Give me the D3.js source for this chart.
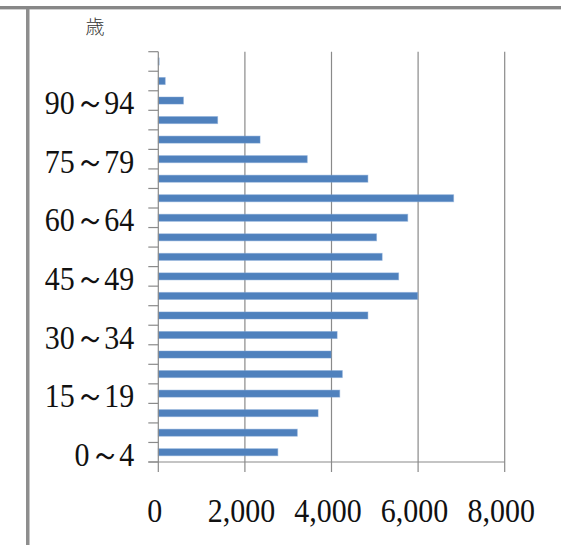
<!DOCTYPE html>
<html>
<head>
<meta charset="utf-8">
<script src="https://cdn.jsdelivr.net/npm/d3@7"></script>
<style>
  html, body { margin: 0; padding: 0; background: #fff; }
  svg { display: block; }
</style>
</head>
<body>
<svg id="chart" width="561" height="545"></svg>
<script>
// Age groups (5-year bands), youngest first
const categories = ["0～4","5～9","10～14","15～19","20～24","25～29","30～34","35～39",
  "40～44","45～49","50～54","55～59","60～64","65～69","70～74","75～79",
  "80～84","85～89","90～94","95～99","100～"];
// Population per age group
const population = [2760, 3210, 3690, 4190, 4250, 3990, 4130, 4840,
  5990, 5550, 5170, 5040, 5760, 6820, 4840, 3440,
  2350, 1370, 580, 160, 20];
// Age groups that carry a label on the vertical axis
const labeledCategories = ["0～4","15～19","30～34","45～49","60～64","75～79","90～94"];
// Value axis ticks
const xTicks = [0, 2000, 4000, 6000, 8000];
const unitLabel = "歳";

const svg = d3.select("#chart");
const W = 561, H = 545;
const plot = { left: 158.3, right: 504.7, top: 51.7, bottom: 462 };

// Page frame: heavy rule along the top and a rule down the left side
svg.append("rect").attr("x", 0).attr("y", 6).attr("width", W).attr("height", 3).attr("fill", "#878787");
svg.append("rect").attr("x", 0).attr("y", 9).attr("width", W).attr("height", 1).attr("fill", "#d0d0d0");
svg.append("rect").attr("x", 26).attr("y", 9).attr("width", 3.5).attr("height", H - 9).attr("fill", "#8e8e8e");

const x = d3.scaleLinear().domain([0, 8000]).range([plot.left, plot.right]);
const y = d3.scaleBand()
  .domain(categories.slice().reverse())
  .range([plot.top, plot.bottom])
  .paddingInner(0.64)
  .paddingOuter(0.32);
const step = y.step();

const gridColor = "#8a8a8a";

// Vertical gridlines, continuing below the baseline as tick marks
svg.append("g").selectAll("line").data(xTicks.slice(1)).join("line")
  .attr("x1", d => x(d)).attr("x2", d => x(d))
  .attr("y1", plot.top).attr("y2", plot.bottom + 10)
  .attr("stroke", gridColor).attr("stroke-width", 1.2);

// Bars
svg.append("g").selectAll("rect").data(categories).join("rect")
  .attr("x", x(0))
  .attr("y", (d) => y(d))
  .attr("width", (d, i) => x(population[i]) - x(0))
  .attr("height", y.bandwidth())
  .attr("fill", "#4f81bd")
  .attr("stroke", "rgba(120,160,210,0.45)")
  .attr("stroke-width", 1);

// Category axis line and boundary ticks
svg.append("line")
  .attr("x1", x(0)).attr("x2", x(0))
  .attr("y1", plot.top).attr("y2", plot.bottom + 10)
  .attr("stroke", gridColor).attr("stroke-width", 1.2);
const boundaries = d3.range(categories.length + 1).map(i => plot.top + i * step);
svg.append("g").selectAll("line").data(boundaries).join("line")
  .attr("x1", x(0) - 10).attr("x2", x(0))
  .attr("y1", d => d).attr("y2", d => d)
  .attr("stroke", gridColor).attr("stroke-width", 1.2);

// Baseline
svg.append("line")
  .attr("x1", x(0) - 10).attr("x2", x(8000))
  .attr("y1", plot.bottom).attr("y2", plot.bottom)
  .attr("stroke", gridColor).attr("stroke-width", 1.2);

const labelFont = "'Liberation Serif', 'Times New Roman', serif";

// Category labels
svg.append("g").selectAll("text").data(labeledCategories).join("text")
  .attr("transform", d => `translate(${x(0) - 24},${y(d) + y.bandwidth() / 2 + 13.5}) scale(1,1.15)`)
  .attr("text-anchor", "end")
  .attr("font-family", labelFont)
  .attr("font-size", 30)
  .attr("fill", "#111")
  .text(d => d);

// Value axis labels
const fmt = d3.format(",");
svg.append("g").selectAll("text").data(xTicks).join("text")
  .attr("transform", d => `translate(${x(d) - 3.5},521.5) scale(1,1.15)`)
  .attr("text-anchor", "middle")
  .attr("font-family", labelFont)
  .attr("font-size", 30)
  .attr("fill", "#111")
  .text(d => fmt(d));

// Unit label
svg.append("text")
  .attr("x", 95).attr("y", 34)
  .attr("text-anchor", "middle")
  .attr("font-family", "'Noto Sans CJK JP', sans-serif")
  .attr("font-weight", 300)
  .attr("font-size", 19)
  .attr("fill", "#333")
  .text(unitLabel);
</script>
</body>
</html>
